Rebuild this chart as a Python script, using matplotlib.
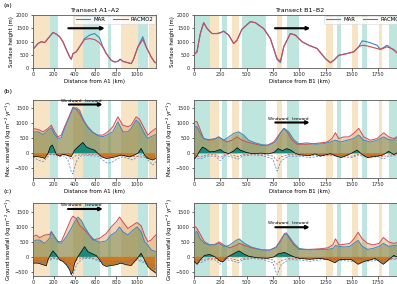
import matplotlib
matplotlib.use("Agg")
import matplotlib.pyplot as plt
import numpy as np

# ---------------- DATA ----------------
# Background bands (km)
bands_A_orange = [(0, 160), (380, 480), (850, 1010), (1120, 1180)]
bands_A_teal = [(165, 240), (480, 640), (720, 750), (1010, 1110)]
bands_B_orange = [(155, 235), (360, 425), (790, 835), (1255, 1325), (1505, 1555), (1755, 1785)]
bands_B_teal = [(0, 155), (265, 310), (456, 680), (880, 1000), (1360, 1395), (1595, 1645), (1855, 2100)]

# (a) surface height, transect A
xA_h = [0, 48, 80, 112, 144, 192, 224, 256, 288, 320, 352, 368, 384, 416, 448, 496, 544, 592, 640, 672,
        704, 752, 784, 816, 838, 864, 912, 944, 966, 1008, 1056, 1088, 1136, 1168, 1180]
A_h_mar = [700, 925, 990, 960, 1110, 1340, 1280, 1180, 990, 700, 420, 330, 540, 610, 800, 1110, 1240, 1300, 1140, 800,
           545, 290, 230, 250, 330, 250, 200, 165, 320, 800, 1180, 800, 420, 230, 200]
A_h_rac = [700, 925, 990, 960, 1110, 1340, 1280, 1180, 990, 700, 420, 330, 540, 610, 800, 1080, 1110, 1075, 950, 780,
           545, 290, 230, 250, 330, 250, 200, 165, 320, 780, 1075, 800, 420, 230, 200]

# (a) surface height, transect B
xB_h = [0, 28, 60, 92, 124, 171, 219, 250, 282, 330, 377, 409, 456, 536, 583, 662, 726, 789, 821, 853, 916, 964,
        1027, 1091, 1170, 1249, 1296, 1328, 1376, 1455, 1518, 1566, 1598, 1645, 1740, 1772, 1835, 1899, 1930, 2010]
B_h_mar = [500, 610, 1300, 1710, 1490, 1300, 1300, 1330, 1390, 1240, 925, 1050, 1460, 1750, 1710, 1490, 1110, 330, 200,
           800, 1300, 1240, 990, 860, 735, 355, 200, 290, 480, 545, 610, 800, 1025, 990, 860, 700, 860, 670, 570, 450]
B_h_rac = [500, 610, 1300, 1710, 1490, 1300, 1300, 1330, 1390, 1240, 925, 1050, 1460, 1750, 1710, 1490, 1110, 355, 250,
           800, 1300, 1240, 990, 860, 735, 355, 200, 290, 480, 545, 610, 800, 860, 835, 735, 700, 800, 700, 570, 450]

# (b) max snowfall, transect A
xA_b = [0, 48, 96, 144, 176, 208, 240, 272, 304, 352, 384, 416, 448, 480, 528, 576, 624, 672, 720, 768, 816, 864,
        912, 944, 992, 1024, 1072, 1104, 1136, 1180]
A_b_rac = [820, 790, 710, 820, 930, 710, 545, 600, 880, 1265, 1530, 1465, 1320, 1100, 880, 690, 600, 600, 710, 880,
           1210, 930, 880, 930, 1210, 1130, 820, 600, 710, 820]
A_b_mar = [710, 710, 620, 765, 845, 620, 490, 510, 820, 1210, 1480, 1510, 1430, 1150, 845, 690, 580, 545, 620, 710,
           1040, 710, 710, 820, 1100, 990, 655, 490, 545, 620]
xA_bn = [0, 48, 96, 112, 144, 166, 186, 208, 224, 256, 288, 320, 368, 400, 432, 480, 512, 544, 592, 624, 656, 704,
         752, 800, 848, 896, 928, 960, 1008, 1040, 1072, 1104, 1152, 1180]
A_b_net = [-120, -120, -150, -180, -10, 210, 270, 100, -45, -100, -45, -65, -120, 100, 210, 355, 210, 155, 100, -10,
           -120, -180, -155, -120, -65, -100, -130, -90, -10, 155, -65, -180, -230, -180]
xA_bd = [0, 48, 96, 128, 160, 208, 256, 304, 336, 368, 384, 416, 448, 480, 560, 624, 672, 720, 768, 816, 864, 912,
         960, 1008, 1040, 1072, 1120, 1152, 1180]
A_b_mar_neg = [-120, -230, -290, -180, -45, -65, -120, -90, -230, -620, -700, -290, -120, -65, -90, -100, -230, -345,
               -290, -180, -120, -180, -230, -100, -45, -100, -290, -400, -290]
xA_bdr = [0, 96, 160, 256, 320, 368, 400, 480, 624, 720, 800, 960, 1104, 1180]
A_b_rac_neg = [-60, -100, -30, -60, -40, -200, -100, -30, -50, -120, -80, -100, -150, -120]

# (c) ground snowfall, transect A
xA_c = [0, 32, 64, 112, 160, 176, 208, 240, 272, 320, 368, 384, 416, 448, 480, 528, 576, 640, 704, 752, 800, 832,
        864, 912, 960, 1000, 1040, 1072, 1104, 1136, 1180]
A_c_rac = [670, 730, 640, 730, 750, 840, 670, 510, 510, 890, 1280, 1360, 1280, 1060, 950, 780, 560, 620, 780, 1000,
           1170, 1330, 1170, 950, 1060, 1150, 1040, 730, 510, 560, 730]
xA_cm = [0, 32, 64, 112, 160, 176, 208, 240, 272, 320, 368, 400, 432, 464, 496, 544, 592, 640, 704, 752, 800, 832,
         864, 912, 960, 1000, 1040, 1072, 1104, 1136, 1180]
A_c_mar = [510, 560, 560, 450, 620, 840, 670, 490, 450, 670, 950, 1170, 1330, 1220, 1000, 730, 560, 490, 530, 730,
           840, 1000, 840, 730, 890, 1000, 840, 510, 400, 230, 180]
xA_cn = [0, 48, 96, 128, 144, 176, 192, 224, 256, 288, 320, 352, 368, 384, 400, 432, 464, 496, 528, 560, 608, 640,
         672, 704, 752, 800, 848, 896, 944, 992, 1040, 1072, 1104, 1136, 1180]
A_c_net = [-210, -210, -265, -300, -100, 120, 200, 70, -100, -155, -265, -430, -600, -490, -210, 10, 175, 340, 175,
           120, 45, -100, -265, -320, -290, -265, -210, -265, -290, -100, 120, -100, -320, -430, -540]
xA_cd = [0, 100, 200, 300, 350, 380, 420, 480, 560, 640, 720, 800, 900, 1000, 1100, 1180]
A_c_mar_neg = [-150, -200, -60, -150, -350, -650, -250, -60, -50, -150, -250, -200, -200, -100, -250, -400]
A_c_rac_neg = [-100, -150, -30, -100, -200, -300, -100, -30, -30, -100, -150, -150, -150, -50, -200, -300]

# (b) max snowfall, transect B
xB_b = [0, 28, 60, 92, 139, 187, 235, 282, 314, 361, 409, 456, 504, 567, 631, 694, 758, 805, 853, 884, 932, 980,
        1075, 1138, 1201, 1265, 1312, 1344, 1376, 1423, 1471, 1518, 1566, 1614, 1677, 1740, 1804, 1851, 1899, 1930, 2010]
B_b_rac = [1050, 1050, 770, 485, 430, 450, 540, 430, 370, 430, 540, 430, 370, 315, 260, 260, 370, 600, 825, 710, 430,
           295, 295, 315, 340, 370, 485, 680, 485, 540, 540, 655, 825, 540, 430, 485, 680, 540, 485, 540, 520]
xB_bm = [0, 28, 60, 92, 139, 203, 235, 282, 330, 377, 425, 472, 520, 583, 647, 710, 773, 821, 859, 900, 948, 995,
         1075, 1154, 1233, 1296, 1344, 1391, 1455, 1518, 1566, 1614, 1677, 1740, 1804, 1851, 1899, 1930, 2010]
B_b_mar = [900, 880, 655, 485, 450, 485, 540, 430, 540, 655, 710, 600, 430, 340, 280, 260, 370, 655, 825, 710, 450,
           315, 340, 295, 315, 370, 430, 370, 430, 485, 600, 430, 370, 430, 540, 450, 430, 540, 500]
xB_bn = [0, 28, 50, 80, 110, 150, 200, 250, 280, 330, 380, 410, 440, 500, 560, 640, 700, 760, 800, 840, 880, 920,
         960, 1000, 1100, 1150, 1200, 1250, 1300, 1350, 1400, 1450, 1500, 1550, 1600, 1650, 1700, 1750, 1800, 1850,
         1900, 1950, 2010]
B_b_net = [-200, -100, 50, 200, 150, 40, 60, 120, 40, -20, 80, 180, 100, 20, -20, 0, -30, 20, 150, 80, 150, 100, 0,
           -60, -80, -30, -100, -60, -20, -100, -150, -80, 0, 100, -50, -150, -120, -100, -60, 60, -50, 50, 0]
xB_bd = [0, 60, 120, 200, 250, 300, 380, 420, 460, 550, 650, 750, 790, 830, 900, 1000, 1100, 1200, 1300, 1400, 1500,
         1560, 1650, 1750, 1800, 1850, 1950, 2010]
B_b_mar_neg = [-150, -200, -100, -100, -250, -80, -150, -200, -100, -60, -80, -200, -600, -250, -100, -100, -150,
               -100, -80, -120, -150, -60, -150, -120, -200, -100, -80, -80]
B_b_rac_neg = [-80, -120, -60, -50, -150, -40, -80, -120, -50, -30, -40, -100, -250, -120, -50, -60, -80, -60, -40,
               -80, -100, -40, -100, -80, -120, -60, -50, -50]

# (c) ground snowfall, transect B
xB_c = [0, 28, 60, 100, 150, 200, 240, 290, 340, 400, 430, 480, 550, 650, 720, 780, 830, 860, 880, 900, 950, 1000,
        1100, 1200, 1270, 1320, 1345, 1380, 1430, 1480, 1520, 1560, 1600, 1650, 1700, 1760, 1800, 1850, 1900, 1950, 2010]
B_c_rac = [1050, 950, 750, 500, 400, 420, 500, 380, 300, 380, 450, 380, 300, 230, 230, 330, 600, 780, 800, 650, 400,
           250, 250, 270, 300, 400, 600, 400, 420, 450, 600, 820, 600, 450, 400, 450, 650, 500, 450, 500, 480]
B_c_mar = [800, 850, 600, 450, 400, 400, 450, 330, 400, 550, 600, 450, 320, 230, 220, 300, 550, 750, 760, 700, 450,
           280, 230, 250, 250, 280, 380, 350, 330, 350, 450, 550, 350, 250, 280, 350, 450, 350, 380, 400, 400]
xB_cn = [0, 30, 60, 100, 150, 200, 250, 280, 320, 400, 430, 470, 520, 600, 700, 760, 800, 860, 900, 950, 1000, 1100,
         1200, 1280, 1340, 1380, 1440, 1500, 1560, 1620, 1680, 1720, 1760, 1800, 1850, 1900, 1950, 2010]
B_c_net = [-150, -250, -100, 50, 80, 0, -150, -150, 0, 150, 200, 100, 20, -30, -50, 0, 100, 150, 80, 0, -50, -80, -50,
           -100, -200, -100, -80, -100, -250, -150, -100, -50, -150, -250, -100, 50, -50, -50]
xB_cd = [0, 60, 120, 200, 250, 300, 380, 420, 460, 550, 650, 750, 790, 830, 900, 1000, 1100, 1200, 1300, 1400, 1500,
         1560, 1650, 1750, 1800, 1850, 1950, 2010]
B_c_mar_neg = [-150, -200, -100, -100, -250, -80, -150, -200, -100, -60, -80, -200, -600, -250, -100, -100, -150,
               -100, -80, -120, -150, -60, -150, -120, -200, -100, -80, -80]
B_c_rac_neg = [-80, -120, -60, -50, -150, -40, -80, -120, -50, -30, -40, -100, -250, -120, -50, -60, -80, -60, -40,
               -80, -100, -40, -100, -80, -120, -60, -50, -50]

# ---------------- STYLE ----------------
C_MAR = "#3d86c4"
C_RAC = "#cf4a55"
C_OR = "#f7e4c4"
C_TE = "#bfe5df"
F_RAC = "#e0904e"
F_MAR = "#6f8a50"
C_POS = "#1a8a7a"
C_NEG = "#c97a22"

FS_T = 3.6
FS_L = 3.9

plt.rcParams['font.family'] = ['DejaVu Sans']

fig = plt.figure(figsize=(3.97, 2.84), dpi=100)

W, H = 397.0, 284.0


def add_ax(x0, x1, ytop, ybot):
    return fig.add_axes([x0 / W, 1 - ybot / H, (x1 - x0) / W, (ybot - ytop) / H])


# x pixel extents
LX0, LX1 = 33, 155.7
RX0, RX1 = 194, 194 + 2010 * 0.1052
rows = [(15, 68), (100, 178), (203, 276)]

axes = {}
for r, (yt, yb) in enumerate(rows):
    axes[(r, 0)] = add_ax(LX0, LX1, yt, yb)
    axes[(r, 1)] = add_ax(RX0, RX1, yt, yb)


def style(ax):
    for s in ax.spines.values():
        s.set_linewidth(0.6)
        s.set_color('0.35')
    ax.tick_params(labelsize=FS_T, length=1.8, width=0.5, pad=1.2, colors='0.15')


def bands(ax, orange, teal):
    for a, b in orange:
        ax.axvspan(a, b, color=C_OR, lw=0, zorder=0)
    for a, b in teal:
        ax.axvspan(a, b, color=C_TE, lw=0, zorder=0)


def arrow(ax, x0, x1, y, label=None, ty=None):
    ax.annotate('', xy=(x1, y), xytext=(x0, y),
                arrowprops=dict(arrowstyle='-|>', lw=1.5, color='k', mutation_scale=4.5,
                                shrinkA=0, shrinkB=0), zorder=6)
    if label:
        ax.text((x0 + x1) / 2 - 40, ty, label, fontsize=3.0, ha='center', va='bottom', zorder=6)


# ---- row (a)
for col, (xh, mar, rac, ob, tb, xl) in enumerate([
        (xA_h, A_h_mar, A_h_rac, bands_A_orange, bands_A_teal, 1180),
        (xB_h, B_h_mar, B_h_rac, bands_B_orange, bands_B_teal, 2010)]):
    ax = axes[(0, col)]
    bands(ax, ob, tb)
    ax.plot(xh, mar, color=C_MAR, lw=0.8, label='MAR', zorder=3)
    ax.plot(xh, rac, color=C_RAC, lw=0.8, label='RACMO2', zorder=3)
    ax.set_xlim(0, xl)
    ax.set_ylim(0, 2000)
    ax.set_yticks([0, 500, 1000, 1500, 2000])
    ax.set_ylabel('Surface height (m)', fontsize=FS_L, labelpad=1.5)
    leg = ax.legend(loc='upper right', ncol=2, fontsize=FS_L, frameon=True, handlelength=2.6,
                    borderpad=0.3, columnspacing=1.5, handletextpad=0.6, borderaxespad=0.1)
    leg.get_frame().set_linewidth(0.4)
    leg.get_frame().set_edgecolor('0.8')
    style(ax)

axes[(0, 0)].set_title('Transect A1\u2013A2', fontsize=4.6, pad=2)
axes[(0, 1)].set_title('Transect B1\u2013B2', fontsize=4.6, pad=2)
arrow(axes[(0, 0)], 340, 690, 1500)
arrow(axes[(0, 1)], 770, 1105, 1500)


def snow_panel(ax, xr, rac, xm, mar, xn, net, xd, mneg, xdr, rneg, ob, tb, xl):
    bands(ax, ob, tb)
    ax.fill_between(xr, 0, rac, color=F_RAC, alpha=0.4, lw=0, zorder=1)
    ax.fill_between(xm, 0, mar, color=F_MAR, alpha=0.5, lw=0, zorder=1.1)
    ax.plot(xr, rac, color=C_RAC, lw=0.7, zorder=3)
    ax.plot(xm, mar, color=C_MAR, lw=0.7, zorder=3)
    n = np.array(net, dtype=float)
    ax.fill_between(xn, 0, n, where=n >= 0, interpolate=True, color=C_POS, lw=0, zorder=2)
    ax.fill_between(xn, 0, n, where=n <= 0, interpolate=True, color=C_NEG, lw=0, zorder=2)
    ax.plot(xn, net, color='k', lw=0.5, zorder=3)
    ax.plot(xd, mneg, color=C_MAR, lw=0.5, ls=(0, (3, 2)), zorder=2.5)
    ax.plot(xdr, rneg, color=C_RAC, lw=0.5, ls=(0, (3, 2)), zorder=2.5)
    ax.set_xlim(0, xl)
    ax.set_yticks([-500, 0, 500, 1000, 1500])
    style(ax)


ylab_b = 'Max. snowfall (kg m$^{-2}$ yr$^{-1}$)'
ylab_c = 'Ground snowfall (kg m$^{-2}$ yr$^{-1}$)'

snow_panel(axes[(1, 0)], xA_b, A_b_rac, xA_b, A_b_mar, xA_bn, A_b_net, xA_bd, A_b_mar_neg, xA_bdr, A_b_rac_neg,
           bands_A_orange, bands_A_teal, 1180)
snow_panel(axes[(1, 1)], xB_b, B_b_rac, xB_bm, B_b_mar, xB_bn, B_b_net, xB_bd, B_b_mar_neg, xB_bd, B_b_rac_neg,
           bands_B_orange, bands_B_teal, 2010)
snow_panel(axes[(2, 0)], xA_c, A_c_rac, xA_cm, A_c_mar, xA_cn, A_c_net, xA_cd, A_c_mar_neg, xA_cd, A_c_rac_neg,
           bands_A_orange, bands_A_teal, 1180)
snow_panel(axes[(2, 1)], xB_c, B_c_rac, xB_c, B_c_mar, xB_cn, B_c_net, xB_cd, B_c_mar_neg, xB_cd, B_c_rac_neg,
           bands_B_orange, bands_B_teal, 2010)

for col in (0, 1):
    axes[(1, col)].set_ylim(-830, 1770)
    axes[(2, col)].set_ylim(-640, 1800)
    axes[(1, col)].set_ylabel(ylab_b, fontsize=FS_L, labelpad=1.0)
    axes[(2, col)].set_ylabel(ylab_c, fontsize=FS_L, labelpad=1.0)

for r in range(3):
    axes[(r, 0)].set_xticks([0, 200, 400, 600, 800, 1000])
    axes[(r, 1)].set_xticks([0, 250, 500, 750, 1000, 1250, 1500, 1750, 2000])
    axes[(r, 0)].set_xlabel('Distance from A1 (km)', fontsize=FS_L, labelpad=1.5)
    axes[(r, 1)].set_xlabel('Distance from B1 (km)', fontsize=FS_L, labelpad=1.5)

arrow(axes[(1, 0)], 345, 670, 1620, 'Windward   leeward', 1660)
arrow(axes[(1, 1)], 773, 1100, 1020, 'Windward   leeward', 1080)
arrow(axes[(2, 0)], 336, 672, 1600, 'Windward   leeward', 1660)
arrow(axes[(2, 1)], 773, 1100, 990, 'Windward   leeward', 1050)

fig.text(3 / W, 1 - 6 / H, '(a)', fontsize=4.6, va='center', ha='left')
fig.text(3 / W, 1 - 92 / H, '(b)', fontsize=4.6, va='center', ha='left')
fig.text(3 / W, 1 - 191 / H, '(c)', fontsize=4.6, va='center', ha='left')

fig.savefig('out.png', dpi=100)
